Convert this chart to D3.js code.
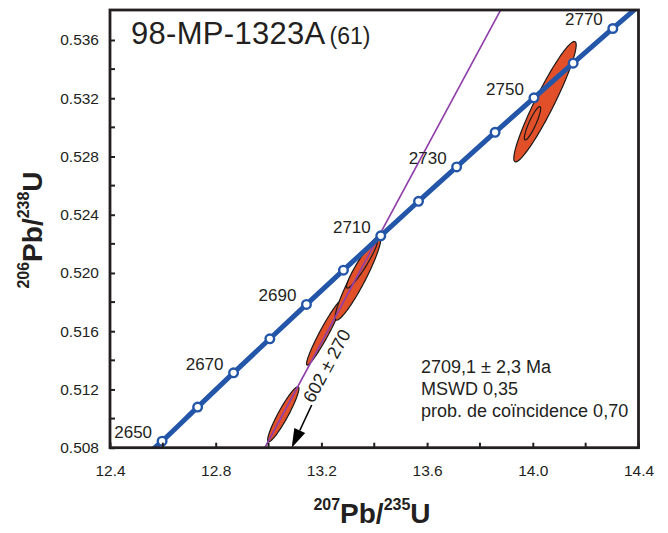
<!DOCTYPE html>
<html>
<head>
<meta charset="utf-8">
<script src="https://cdn.jsdelivr.net/npm/d3@7"></script>
<style>
html,body{margin:0;padding:0;background:#fff;}
svg text{font-family:"Liberation Sans",Arial,Helvetica,sans-serif;fill:#231f20;}
</style>
</head>
<body>
<svg id="chart" width="668" height="533"></svg>
<script>
// ---------------- data ----------------
const sampleName = "98-MP-1323A";
const sampleCount = "(61)";

const xTickValues = [12.4, 12.8, 13.2, 13.6, 14.0, 14.4];
const xTickLabels = ["12.4", "12.8", "13.2", "13.6", "14.0", "14.4"];
const xMinorTicks = [12.6, 13.0, 13.4, 13.8, 14.2];
const yTickValues = [0.508, 0.512, 0.516, 0.520, 0.524, 0.528, 0.532, 0.536];
const yTickLabels = ["0.508", "0.512", "0.516", "0.520", "0.524", "0.528", "0.532", "0.536"];
const yMinorTicks = [0.510, 0.514, 0.518, 0.522, 0.526, 0.530, 0.534];
const xDomain = [12.4, 14.4];
const yDomain = [0.508, 0.53806];

// concordia ages (Ma) and ratios 207Pb/235U (x), 206Pb/238U (y)
const concordiaAges = [2640, 2650, 2660, 2670, 2680, 2690, 2700, 2710, 2720, 2730, 2740, 2750, 2760, 2770, 2780];
const concordiaX = [12.4503, 12.5971, 12.7316, 12.8675, 13.0048, 13.1434, 13.2834, 13.4247, 13.5675, 13.7117, 13.8573, 14.0043, 14.1528, 14.3028, 14.4543];
const concordiaY = [0.50611, 0.50845, 0.51079, 0.51314, 0.51548, 0.51784, 0.52019, 0.52255, 0.52492, 0.52728, 0.52966, 0.53203, 0.53441, 0.53679, 0.53918];
const markerAges = [2650, 2660, 2670, 2680, 2690, 2700, 2710, 2720, 2730, 2740, 2750, 2760, 2770];
const labelAges = [2650, 2670, 2690, 2710, 2730, 2750, 2770];

// discordia: lower intercept (602 Ma), upper intercept (2709.1 Ma), and where it leaves the plot at top
const discordiaX = [0.8092, 13.4118, 13.8790];
const discordiaY = [0.09788, 0.52234, 0.53808];
const lowerInterceptLabel = "602 ± 270";

// error ellipses: centre, 2-sigma half-extent in x and y, correlation
const ellipseX   = [13.0558, 13.2117, 13.3385, 13.3536, 14.0462, 13.9989];
const ellipseY   = [0.510301, 0.515912, 0.519655, 0.520617, 0.531764, 0.530280];
const ellipseSX  = [0.05915, 0.06789, 0.08651, 0.05858, 0.1180, 0.03084];
const ellipseSY  = [0.001894, 0.002237, 0.002894, 0.001657, 0.004131, 0.001148];
const ellipseRho = [0.9316, 0.9589, 0.9300, 0.9398, 0.9405, 0.8833];

// arrow toward lower intercept
const arrowX = [13.1633, 13.0876];
const arrowY = [0.510933, 0.508];

const resultLines = ["2709,1 ± 2,3 Ma", "MSWD 0,35", "prob. de coïncidence 0,70"];

// ---------------- layout ----------------
const L = 110, R = 638.5, T = 10, B = 447.7;
const svg = d3.select("#chart");
const x = d3.scaleLinear().domain(xDomain).range([L, R]);
const y = d3.scaleLinear().domain(yDomain).range([B, T]);

const BLUE = "#2356a8", PURPLE = "#9040a8", ORANGE = "#e2502a";

svg.append("defs").append("clipPath").attr("id", "plotclip")
  .append("rect").attr("x", L).attr("y", T).attr("width", R - L).attr("height", B - T);

const plot = svg.append("g").attr("clip-path", "url(#plotclip)");

// ellipses
const ellipses = ellipseX.map((cx, i) => {
  const pts = [];
  const sx = ellipseSX[i], sy = ellipseSY[i], r = ellipseRho[i];
  const q = Math.sqrt(1 - r * r);
  for (let k = 0; k < 120; k++) {
    const t = k / 120 * 2 * Math.PI;
    pts.push([x(cx + sx * Math.cos(t)), y(ellipseY[i] + sy * (r * Math.cos(t) + q * Math.sin(t)))]);
  }
  return pts;
});
plot.selectAll("path.ell").data(ellipses).enter().append("path")
  .attr("class", "ell")
  .attr("d", d => d3.line().curve(d3.curveCardinalClosed)(d))
  .attr("fill", ORANGE).attr("stroke", "#1a1a1a").attr("stroke-width", 1.2);

// discordia
const disc = discordiaX.map((v, i) => [x(v), y(discordiaY[i])]);
plot.append("path")
  .attr("d", d3.line()(disc))
  .attr("fill", "none").attr("stroke", PURPLE).attr("stroke-width", 1.7);

// concordia
const conc = concordiaAges.map((a, i) => ({age: a, x: concordiaX[i], y: concordiaY[i]}));
plot.append("path")
  .attr("d", d3.line().x(d => x(d.x)).y(d => y(d.y)).curve(d3.curveCatmullRom)(conc))
  .attr("fill", "none").attr("stroke", BLUE).attr("stroke-width", 5);

const markers = conc.filter(d => markerAges.includes(d.age));
plot.selectAll("circle.m").data(markers).enter().append("circle")
  .attr("class", "m")
  .attr("cx", d => x(d.x)).attr("cy", d => y(d.y)).attr("r", 4.3)
  .attr("fill", "#fff").attr("stroke", BLUE).attr("stroke-width", 2.4);

// age labels
svg.selectAll("text.age").data(conc.filter(d => labelAges.includes(d.age))).enter().append("text")
  .attr("class", "age")
  .attr("x", d => x(d.x) - 10).attr("y", d => y(d.y) - 3)
  .attr("text-anchor", "end").attr("font-size", 17)
  .text(d => d.age);

// arrow
const ax1 = x(arrowX[0]), ay1 = y(arrowY[0]), ax2 = x(arrowX[1]), ay2 = y(arrowY[1]);
const dxA = ax2 - ax1, dyA = ay2 - ay1, lenA = Math.hypot(dxA, dyA);
const ux = dxA / lenA, uy = dyA / lenA;
const hl = 19, hw = 6;
const bx = ax2 - ux * hl, by = ay2 - uy * hl;
svg.append("line").attr("x1", ax1).attr("y1", ay1).attr("x2", bx).attr("y2", by)
  .attr("stroke", "#000").attr("stroke-width", 1.6);
svg.append("path")
  .attr("d", `M${ax2},${ay2}L${bx - uy * hw},${by + ux * hw}L${bx + uy * hw},${by - ux * hw}Z`)
  .attr("fill", "#000");

// lower intercept label along discordia
const discAngle = Math.atan2(disc[1][1] - disc[0][1], disc[1][0] - disc[0][0]) * 180 / Math.PI;
svg.append("text")
  .attr("transform", `translate(327,366) rotate(${discAngle})`)
  .attr("text-anchor", "middle").attr("dominant-baseline", "central")
  .attr("font-size", 18)
  .text(lowerInterceptLabel);

// axes (inward ticks)
const yAxis = d3.axisLeft(y).tickValues(yTickValues).tickFormat((d, i) => yTickLabels[i]).tickSize(-5).tickPadding(11);
const gy = svg.append("g").attr("transform", `translate(${L},0)`).call(yAxis);
gy.select(".domain").remove();
gy.selectAll("text").attr("font-size", 15.5).attr("fill", "#231f20").attr("font-family", null);
gy.selectAll("line").attr("stroke", "#231f20").attr("stroke-width", 2);
svg.append("g").selectAll("line").data(yMinorTicks).enter().append("line")
  .attr("x1", L).attr("x2", L + 5).attr("y1", d => y(d)).attr("y2", d => y(d))
  .attr("stroke", "#231f20").attr("stroke-width", 2);

const xAxis = d3.axisBottom(x).tickValues(xTickValues).tickFormat((d, i) => xTickLabels[i]).tickSize(-5).tickPadding(17);
const gx = svg.append("g").attr("transform", `translate(0,${B})`).call(xAxis);
gx.select(".domain").remove();
gx.selectAll("text").attr("font-size", 15.5).attr("fill", "#231f20").attr("font-family", null);
gx.selectAll("line").attr("stroke", "#231f20").attr("stroke-width", 2);
svg.append("g").selectAll("line").data(xMinorTicks).enter().append("line")
  .attr("x1", d => x(d)).attr("x2", d => x(d)).attr("y1", B).attr("y2", B - 5)
  .attr("stroke", "#231f20").attr("stroke-width", 2);

// frame
svg.append("rect").attr("x", L).attr("y", T).attr("width", R - L).attr("height", B - T)
  .attr("fill", "none").attr("stroke", "#231f20").attr("stroke-width", 2.8);

// title
const title = svg.append("text").attr("x", 131).attr("y", 44.3).attr("font-size", 31);
title.append("tspan").attr("letter-spacing", 0.3).text(sampleName);
title.append("tspan").attr("font-size", 23).attr("dx", 4).text(sampleCount);

// results
svg.selectAll("text.res").data(resultLines).enter().append("text")
  .attr("class", "res")
  .attr("x", 421).attr("y", (d, i) => 372.5 + i * 22)
  .attr("font-size", 18).text(d => d);

// axis titles
function ratioTitle(sel, a, b, c, d) {
  sel.attr("font-weight", "bold").attr("font-size", 28);
  sel.append("tspan").attr("font-size", 16).attr("dy", -13).text(a);
  sel.append("tspan").attr("dy", 13).text(b);
  sel.append("tspan").attr("font-size", 16).attr("dy", -13).text(c);
  sel.append("tspan").attr("dy", 13).text(d);
}
ratioTitle(svg.append("text").attr("x", 372).attr("y", 523).attr("text-anchor", "middle"),
  "207", "Pb/", "235", "U");
ratioTitle(svg.append("text").attr("transform", "translate(41.5,230) rotate(-90)").attr("text-anchor", "middle"),
  "206", "Pb/", "238", "U");
</script>
</body>
</html>
